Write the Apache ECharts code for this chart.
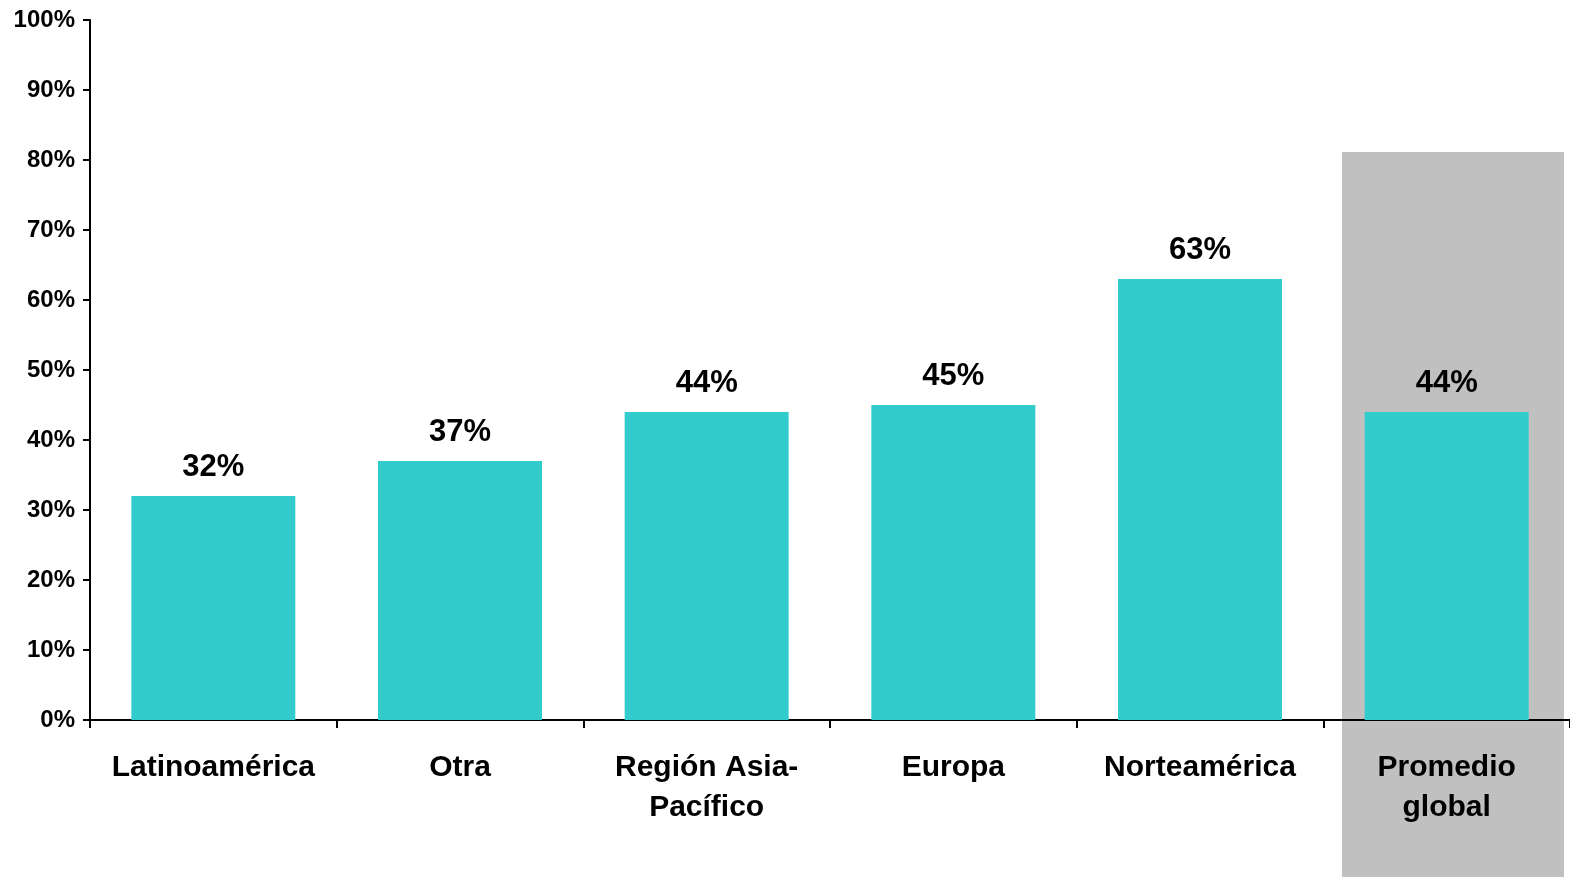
<!DOCTYPE html>
<html><head><meta charset="utf-8">
<script src="https://cdn.jsdelivr.net/npm/echarts@6/dist/echarts.min.js"></script>
<style>html,body{margin:0;padding:0;background:#fff}#c{width:1570px;height:877px}</style>
</head><body><div id="c"></div>
<script>
const categories = ['Latinoamérica', 'Otra', 'Región Asia-\nPacífico', 'Europa', 'Norteamérica', 'Promedio\nglobal'];
const values = [32, 37, 44, 45, 63, 44];
const yTicks = [0, 10, 20, 30, 40, 50, 60, 70, 80, 90, 100];

const FONT = '"Liberation Sans", Arial, Helvetica, sans-serif';
const chart = echarts.init(document.getElementById('c'), null, {renderer: 'canvas'});
chart.setOption({
  animation: false,
  backgroundColor: '#ffffff',
  grid: {left: 90, right: 0, top: 20, bottom: 157, containLabel: false},
  graphic: [{
    type: 'rect', z: -10, silent: true,
    shape: {x: 1342, y: 152, width: 222, height: 725},
    style: {fill: '#c0c0c0'}
  }],
  xAxis: {
    type: 'category', data: categories,
    axisLine: {lineStyle: {color: '#000', width: 2}},
    axisTick: {show: true, length: 8, lineStyle: {color: '#000', width: 2}, alignWithLabel: false},
    axisLabel: {interval: 0, margin: 28, color: '#000', fontFamily: FONT, fontWeight: 'bold', fontSize: 30, lineHeight: 40}
  },
  yAxis: {
    type: 'value', min: yTicks[0], max: yTicks[yTicks.length - 1], interval: 10,
    splitLine: {show: false},
    axisLine: {show: true, lineStyle: {color: '#000', width: 2}},
    axisTick: {show: true, length: 7, lineStyle: {color: '#000', width: 2}},
    axisLabel: {margin: 15, color: '#000', fontFamily: FONT, fontWeight: 'bold', fontSize: 24, formatter: v => v + '%'}
  },
  series: [{
    type: 'bar', data: values, barWidth: 164,
    itemStyle: {color: '#33cccc'},
    label: {show: true, position: 'top', distance: 13, color: '#000', fontFamily: FONT, fontWeight: 'bold', fontSize: 31, formatter: p => p.value + '%'}
  }]
});
</script></body></html>
